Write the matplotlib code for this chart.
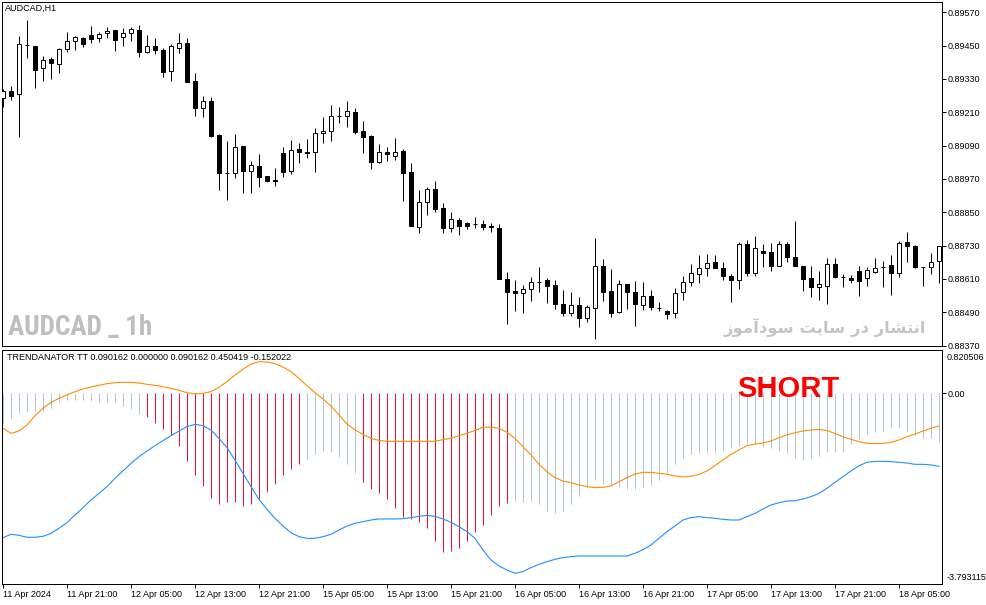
import matplotlib.pyplot as plt
from matplotlib.patches import Rectangle
import numpy as np

W, H = 987, 605

# AUDCAD H1 candles, 11 Apr 13:00 -> 18 Apr 10:00
opens = [0.89261, 0.89286, 0.89276, 0.89452, 0.89448, 0.89369, 0.89402, 0.89384, 0.89438, 0.89466,
         0.89477, 0.89488, 0.89477, 0.89495, 0.89506, 0.89481, 0.89495, 0.89506, 0.89427, 0.89448,
         0.89434, 0.89358, 0.89441, 0.89459, 0.89322, 0.89225, 0.89250, 0.89128, 0.88991, 0.88991,
         0.89088, 0.88998, 0.89016, 0.88980, 0.88966, 0.89063, 0.88998, 0.89078, 0.89067, 0.89067,
         0.89135, 0.89142, 0.89197, 0.89196, 0.89211, 0.89142, 0.89124, 0.89031, 0.89067, 0.89052,
         0.89070, 0.88995, 0.88797, 0.88887, 0.88934, 0.88865, 0.88793, 0.88822, 0.88811, 0.88808,
         0.88808, 0.88800, 0.88793, 0.88610, 0.88566, 0.88559, 0.88574, 0.88599, 0.88606, 0.88588,
         0.88520, 0.88487, 0.88516, 0.88469, 0.88505, 0.88656, 0.88566, 0.88491, 0.88592, 0.88563,
         0.88516, 0.88548, 0.88505, 0.88494, 0.88487, 0.88563, 0.88599, 0.88628, 0.88649, 0.88671,
         0.88649, 0.88620, 0.88606, 0.88736, 0.88631, 0.88710, 0.88707, 0.88656, 0.88736, 0.88689,
         0.88656, 0.88613, 0.88581, 0.88584, 0.88664, 0.88617, 0.88613, 0.88638, 0.88613, 0.88635,
         0.88653, 0.88660, 0.88631, 0.88743, 0.88728, 0.88653, 0.88653, 0.88674]
highs = [0.89294, 0.89304, 0.89484, 0.89542, 0.89450, 0.89412, 0.89409, 0.89441, 0.89499, 0.89484,
         0.89481, 0.89520, 0.89499, 0.89517, 0.89507, 0.89513, 0.89517, 0.89524, 0.89488, 0.89477,
         0.89441, 0.89456, 0.89495, 0.89477, 0.89351, 0.89268, 0.89265, 0.89132, 0.89106, 0.89132,
         0.89090, 0.89034, 0.89060, 0.88981, 0.89009, 0.89085, 0.89110, 0.89099, 0.89114, 0.89153,
         0.89194, 0.89236, 0.89229, 0.89250, 0.89225, 0.89178, 0.89128, 0.89096, 0.89085, 0.89117,
         0.89078, 0.89027, 0.88930, 0.88941, 0.88962, 0.88883, 0.88851, 0.88829, 0.88815, 0.88833,
         0.88822, 0.88811, 0.88808, 0.88635, 0.88606, 0.88588, 0.88617, 0.88653, 0.88613, 0.88606,
         0.88570, 0.88563, 0.88545, 0.88516, 0.88757, 0.88682, 0.88646, 0.88606, 0.88593, 0.88602,
         0.88599, 0.88570, 0.88527, 0.88498, 0.88577, 0.88620, 0.88664, 0.88696, 0.88700, 0.88696,
         0.88671, 0.88628, 0.88743, 0.88750, 0.88764, 0.88736, 0.88739, 0.88746, 0.88743, 0.88818,
         0.88657, 0.88656, 0.88638, 0.88685, 0.88685, 0.88628, 0.88624, 0.88656, 0.88653, 0.88685,
         0.88674, 0.88696, 0.88746, 0.88779, 0.88732, 0.88654, 0.88703, 0.88729]
lows = [0.89229, 0.89254, 0.89121, 0.89405, 0.89297, 0.89322, 0.89330, 0.89351, 0.89427, 0.89434,
        0.89445, 0.89459, 0.89463, 0.89477, 0.89430, 0.89448, 0.89466, 0.89409, 0.89423, 0.89420,
        0.89337, 0.89322, 0.89423, 0.89318, 0.89196, 0.89193, 0.89121, 0.88930, 0.88894, 0.88973,
        0.88919, 0.88919, 0.88941, 0.88959, 0.88944, 0.88977, 0.88988, 0.89027, 0.89045, 0.88995,
        0.89099, 0.89106, 0.89171, 0.89157, 0.89132, 0.89063, 0.89006, 0.89027, 0.89034, 0.89038,
        0.88890, 0.88799, 0.88775, 0.88840, 0.88851, 0.88775, 0.88779, 0.88768, 0.88790, 0.88793,
        0.88786, 0.88779, 0.88609, 0.88448, 0.88494, 0.88487, 0.88530, 0.88563, 0.88523, 0.88502,
        0.88476, 0.88476, 0.88437, 0.88455, 0.88394, 0.88530, 0.88473, 0.88487, 0.88502, 0.88440,
        0.88498, 0.88498, 0.88494, 0.88466, 0.88469, 0.88534, 0.88584, 0.88595, 0.88620, 0.88648,
        0.88606, 0.88527, 0.88574, 0.88620, 0.88620, 0.88653, 0.88638, 0.88655, 0.88671, 0.88655,
        0.88566, 0.88545, 0.88534, 0.88520, 0.88613, 0.88581, 0.88595, 0.88548, 0.88584, 0.88631,
        0.88581, 0.88552, 0.88617, 0.88671, 0.88649, 0.88584, 0.88628, 0.88595]
closes = [0.89286, 0.89268, 0.89456, 0.89453, 0.89362, 0.89398, 0.89387, 0.89438, 0.89466, 0.89481,
          0.89456, 0.89474, 0.89492, 0.89502, 0.89470, 0.89495, 0.89510, 0.89427, 0.89448, 0.89434,
          0.89355, 0.89448, 0.89459, 0.89319, 0.89225, 0.89250, 0.89124, 0.88991, 0.88993, 0.89085,
          0.88998, 0.89020, 0.88977, 0.88962, 0.88964, 0.88995, 0.89074, 0.89067, 0.89065, 0.89135,
          0.89142, 0.89196, 0.89195, 0.89214, 0.89139, 0.89121, 0.89031, 0.89067, 0.89060, 0.89067,
          0.88991, 0.88800, 0.88887, 0.88934, 0.88862, 0.88793, 0.88826, 0.88800, 0.88800, 0.88807,
          0.88797, 0.88797, 0.88610, 0.88563, 0.88559, 0.88574, 0.88599, 0.88600, 0.88584, 0.88520,
          0.88487, 0.88516, 0.88469, 0.88509, 0.88656, 0.88563, 0.88487, 0.88592, 0.88563, 0.88520,
          0.88548, 0.88509, 0.88504, 0.88484, 0.88559, 0.88599, 0.88631, 0.88649, 0.88667, 0.88649,
          0.88620, 0.88606, 0.88736, 0.88631, 0.88721, 0.88703, 0.88656, 0.88736, 0.88689, 0.88656,
          0.88610, 0.88581, 0.88592, 0.88664, 0.88617, 0.88616, 0.88606, 0.88602, 0.88642, 0.88649,
          0.88652, 0.88631, 0.88739, 0.88728, 0.88653, 0.88652, 0.88671, 0.88728]

# TRENDANATOR TT indicator
hist = [-0.591, -0.481, -0.382, -0.362, -0.362, -0.343, -0.296, -0.177, -0.132, -0.132,
        -0.132, -0.146, -0.165, -0.165, -0.177, -0.244, -0.315, -0.408, -0.473, -0.579,
        -0.703, -0.821, -1.032, -1.328, -1.609, -1.820, -2.057, -2.181, -2.135, -2.135,
        -2.214, -2.181, -2.082, -1.938, -1.787, -1.609, -1.491, -1.393, -1.294, -1.196,
        -1.137, -1.162, -1.249, -1.393, -1.564, -1.741, -1.885, -1.958, -2.082, -2.254,
        -2.431, -2.482, -2.529, -2.648, -2.904, -3.120, -3.101, -3.042, -2.904, -2.738,
        -2.594, -2.397, -2.214, -2.155, -2.122, -2.135, -2.122, -2.187, -2.313, -2.364,
        -2.313, -2.181, -2.017, -1.872, -1.708, -1.787, -1.793, -1.840, -1.885, -1.885,
        -1.840, -1.806, -1.708, -1.576, -1.393, -1.281, -1.196, -1.182, -1.182, -1.170,
        -1.117, -1.084, -1.032, -1.005, -0.999, -1.052, -1.084, -1.137, -1.182, -1.269,
        -1.314, -1.281, -1.235, -1.162, -1.162, -1.162, -1.005, -0.900, -0.808, -0.756,
        -0.737, -0.690, -0.690, -0.756, -0.835, -0.875, -0.875, -0.953]
short_bars = list(range(18, 38)) + list(range(45, 64))

orange = [-0.690, -0.789, -0.743, -0.624, -0.441, -0.296, -0.178, -0.099, -0.033, 0.032,
          0.085, 0.124, 0.157, 0.190, 0.209, 0.216, 0.216, 0.203, 0.177, 0.157,
          0.131, 0.098, 0.058, 0.012, -0.014, -0.001, 0.032, 0.118, 0.229, 0.361,
          0.472, 0.577, 0.623, 0.617, 0.584, 0.518, 0.426, 0.295, 0.150, 0.012,
          -0.112, -0.250, -0.427, -0.605, -0.723, -0.808, -0.887, -0.927, -0.946, -0.946,
          -0.946, -0.946, -0.946, -0.946, -0.946, -0.913, -0.887, -0.835, -0.789, -0.730,
          -0.670, -0.664, -0.690, -0.769, -0.887, -1.051, -1.215, -1.399, -1.544, -1.662,
          -1.728, -1.761, -1.806, -1.839, -1.859, -1.852, -1.826, -1.741, -1.662, -1.590,
          -1.557, -1.557, -1.577, -1.596, -1.629, -1.649, -1.636, -1.596, -1.531, -1.426,
          -1.314, -1.202, -1.117, -1.032, -0.999, -0.979, -0.940, -0.874, -0.821, -0.776,
          -0.743, -0.723, -0.710, -0.736, -0.789, -0.854, -0.907, -0.953, -0.986, -0.992,
          -0.986, -0.966, -0.920, -0.854, -0.802, -0.743, -0.690, -0.644]
blue = [-2.844, -2.778, -2.798, -2.837, -2.837, -2.818, -2.759, -2.660, -2.549, -2.397,
        -2.253, -2.102, -1.971, -1.839, -1.675, -1.531, -1.380, -1.248, -1.137, -1.032,
        -0.933, -0.835, -0.743, -0.657, -0.611, -0.638, -0.723, -0.887, -1.071, -1.314,
        -1.577, -1.839, -2.089, -2.286, -2.463, -2.614, -2.746, -2.824, -2.857, -2.857,
        -2.824, -2.778, -2.693, -2.614, -2.562, -2.529, -2.496, -2.476, -2.476, -2.476,
        -2.470, -2.450, -2.424, -2.404, -2.424, -2.476, -2.542, -2.627, -2.726, -2.857,
        -3.087, -3.284, -3.402, -3.481, -3.547, -3.514, -3.435, -3.369, -3.317, -3.271,
        -3.238, -3.218, -3.205, -3.205, -3.205, -3.205, -3.205, -3.205, -3.205, -3.153,
        -3.080, -2.988, -2.857, -2.726, -2.614, -2.496, -2.450, -2.430, -2.450, -2.463,
        -2.483, -2.496, -2.496, -2.430, -2.365, -2.279, -2.200, -2.155, -2.122, -2.115,
        -2.082, -2.036, -1.971, -1.872, -1.754, -1.642, -1.531, -1.426, -1.360, -1.340,
        -1.340, -1.347, -1.360, -1.373, -1.399, -1.399, -1.412, -1.439]

price_ticks = [0.88370, 0.88490, 0.88610, 0.88730, 0.88850, 0.88970,
               0.89090, 0.89210, 0.89330, 0.89450, 0.89570]
time_labels = ['11 Apr 2024', '11 Apr 21:00', '12 Apr 05:00', '12 Apr 13:00', '12 Apr 21:00',
               '15 Apr 05:00', '15 Apr 13:00', '15 Apr 21:00', '16 Apr 05:00', '16 Apr 13:00',
               '16 Apr 21:00', '17 Apr 05:00', '17 Apr 13:00', '17 Apr 21:00', '18 Apr 05:00']
ind_max, ind_min = '0.820506', '-3.793115'

FONT = ['Liberation Sans', 'DejaVu Sans']
SMALL = 6.5
PX = 0.72  # one pixel in points

fig = plt.figure(figsize=(W / 100, H / 100), dpi=100)
ax = fig.add_axes([2.5 / W, 1 - 346 / H, 939.2 / W, 344.3 / H])
ax2 = fig.add_axes([2.5 / W, 1 - 584 / H, 939.2 / W, 234.5 / H])

x = np.arange(len(opens))

# candles
ax.vlines(x, lows, highs, colors='black', linewidth=PX, zorder=2)
for i in x:
    o, c = opens[i], closes[i]
    face = 'white' if c >= o else 'black'
    ax.add_patch(Rectangle((i - 0.25, min(o, c)), 0.5, abs(c - o), facecolor=face,
                           edgecolor='black', linewidth=PX, zorder=3))

ax.set_xlim(-0.06, 117.34)
ax.set_ylim(0.883684, 0.89608)
ax.yaxis.tick_right()
ax.set_yticks(price_ticks)
ax.set_yticklabels([f'{v:.5f}' for v in price_ticks], family=FONT)
ax.tick_params(axis='y', direction='out', length=3, width=PX, pad=1.5, labelsize=SMALL)
ax.set_xticks([])

# indicator
bar_colors = ['#DC143C' if i in short_bars else '#B0C4DE' for i in x]
ax2.vlines(x, 0, hist, colors=bar_colors, linewidth=PX)
ax2.plot(x, orange, color='#FF8C00', lw=0.8)
ax2.plot(x, blue, color='#1E90FF', lw=0.8)

ax2.set_xlim(-0.06, 117.34)
ax2.set_ylim(-3.757, 0.863)
ax2.yaxis.tick_right()
ax2.set_yticks([0])
ax2.set_yticklabels(['0.00'], family=FONT)
ax2.tick_params(axis='y', direction='out', length=3, width=PX, pad=1.5, labelsize=SMALL)

ax2.set_xticks(range(0, 113, 8))
ax2.set_xticklabels(time_labels, ha='left', family=FONT)
ax2.tick_params(axis='x', direction='out', length=3, width=PX, pad=1.5, labelsize=SMALL)

for a in (ax, ax2):
    for s in a.spines.values():
        s.set_linewidth(PX)

# window max / min labels of the indicator scale
fig.text(946.5 / W, 1 - 357.5 / H, ind_max, fontsize=SMALL, family=FONT, va='center')
fig.text(946.5 / W, 1 - 577.5 / H, ind_min, fontsize=SMALL, family=FONT, va='center')

# texts
fig.text(5 / W, 1 - 8 / H, 'AUDCAD,H1', fontsize=SMALL, family=FONT, va='center')
fig.text(7 / W, 1 - 358 / H, 'TRENDANATOR TT 0.090162 0.000000 0.090162 0.450419 -0.152022',
         fontsize=SMALL, family=FONT, va='center')
fig.text(8 / W, 1 - 335 / H, 'AUDCAD _ 1h', fontsize=19.5, weight='bold', color='#BEBEBE',
         family=['Roboto Condensed', 'Liberation Sans Narrow', 'DejaVu Sans'],
         stretch='condensed', va='baseline')
fa = ('\uFEAF\uFEEE\uFEE3\uFE81\uFEA9\uFEEE\uFEB3 \uFE96\uFEF3\uFE8E\uFEB3 '
      '\uFEAD\uFEA9 \uFEAD\uFE8E\uFEB8\uFE98\uFEE7\uFE8D')
fig.text(926 / W, 1 - 333 / H, fa, fontsize=11.8, weight='bold', color='#C4C4C4',
         family=['DejaVu Sans'], ha='right', va='baseline')
fig.text(737 / W, 1 - 397 / H, 'SHORT', fontsize=21, weight='bold', color='#FF0000',
         family=['Liberation Sans', 'DejaVu Sans'], va='baseline')

fig.savefig('out.png', dpi=100)
